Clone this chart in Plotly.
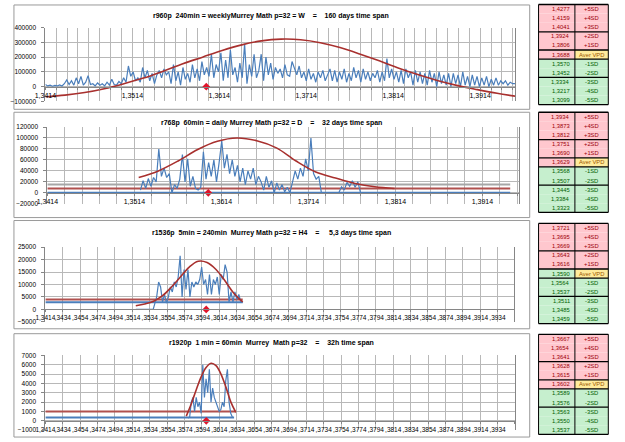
import numpy as np
import plotly.graph_objects as go

W, H = 625, 442
FONT = "Liberation Sans, Arial, sans-serif"

# ---------------- data ----------------
titles = [
    "r960p  240min = weeklyMurrey Math p=32 = W    =    160 days time span",
    "r768p  60min = daily Murrey Math p=32 = D    =    32 days time span",
    "r1536p  5min = 240min  Murrey Math p=32 = H4    =     5,3 days time span",
    "r1920p  1 min = 60min  Murrey  Math p=32    =    32h time span",
]

# panel 1 (values in thousands)
p1_blue_k = [
    15, 5, 10, 3, 8, 5, 12, 5, 20, 45,
    15, 40, 10, 60, 20, 70, 10, 30, 75, 15,
    20, 5, 25, 10, 20, 5, 30, 10, 50, 15,
    10, 35, 20, 60, 30, 140, 70, 100, 40, 60,
    30, 130, 60, 110, 40, 90, 20, 80, 110, 60,
    120, 80, 100, 20, 150, 40, 100, 10, 130, 50,
    90, 30, 150, 60, 120, 40, 170, 80, 130, 70,
    220, 60, 150, 100, 230, 40, 180, 60, 250, 80,
    130, 30, 160, 60, 290, 20, 150, 70, 220, 60,
    110, 220, 40, 200, 80, 160, 50, 130, 90, 120,
    60, 150, 80, 70, 170, 120, 80, 140, 60, 100,
    40, 120, 50, 90, 30, 100, 60, 110, 40, 80,
    120, 40, 110, 30, 100, 50, 120, 30, 90, 40,
    130, 60, 110, 30, 120, 50, 100, 40, 90, 60,
    110, 30, 100, 40, 190, 60, 120, 50, 100, 30,
    110, 20, 120, 60, 100, 10, 110, 30, 100, 20,
    90, 10, 110, 30, 90, 0, 100, 20, 80, 10,
    90, 0, 90, 20, 80, 0, 100, 10, 70, 0,
    80, 10, 70, 0, 60, 10, 70, 0, 50, 10,
    60, 10, 40, 20, 40, 10, 30, 20, 20]
p1_blue_span = (1.3414, 1.3954)
p1_red_k = [-68, -57, -40, -14, 20, 58, 105, 155, 200, 245, 283, 310, 322,
            318, 298, 265, 222, 175, 125, 80, 40, 7, -20, -45, -66]
p1_red_span = (1.3414, 1.3956)

# panel 2
p2_blue_k = [
    5, 22, 8, 26, 12, 28, 20, 80, 30, 45,
    28, 35, 0, 15, 8, 25, 70, 20, 62, 12,
    30, 8, 5, 10, 75, 25, 55, 30, 60, 20,
    55, 95, 45, 70, 35, 60, 30, 50, 20, 45,
    15, 40, 25, 45, 15, 30, 20, 5, 30, 10,
    22, 0, 18, 5, 15, 2, 10, 0, 20, 40,
    25, 45, 30, 62, 40, 100, 35, 25, 30, 0]
p2_blue_span = (1.3521, 1.3729)
p2_blue2_k = [0, 11, 5, 19, 12, 22, 10, 20, 0]
p2_blue2_span = (1.3749, 1.3774)
p2_red_k = [28, 40, 58, 79, 94, 100, 95, 82, 58, 38, 27, 17, 11, 8]
p2_red_span = (1.3519, 1.3813)
p2_levels = {"gray": 15000, "red": 8000, "blue": 0}
p2_level_span = (1.3414, 1.3946)

# panel 3
p3_blue_lead = [0, 0]
p3_blue_lead_x = [1.3518, 1.3538]
p3_blue = [5000, 11000, 9000, 3000, 6000, 2500, 5000, 9000, 7000, 11000,
           9000, 13000, 21500, 5000, 16000, 8000, 16000, 5000, 11000, 9000,
           11000, 10000, 12000, 17000, 10000, 12000, 6000, 14000, 6000, 12000,
           10000, 13000, 6000, 14000, 12000, 18000, 15000, 3000, 7000, 3000,
           7000, 4000, 6000, 3000, 2900]
p3_blue_span = (1.3542, 1.3641)
p3_red = [1500, 2200, 3300, 5500, 9000, 13000, 17000, 19300, 18800, 16000, 11500, 6500, 3000]
p3_red_span = (1.3518, 1.3641)
p3_levels = {"red": 4000, "blue": 2900}
p3_level_span = (1.3414, 1.3641)

# panel 4
p4_blue = [300, 400, 2000, 2500, 1000, 2500, 1500, 2000, 800, 6000,
           2500, 4500, 3000, 5500, 2000, 3500, 2500, 2000, 1500, 1000,
           1200, 2000, 1500, 4300, 5500, 2000, 800, 400]
p4_blue_span = (1.3578, 1.3629)
p4_red = [500, 1800, 3300, 4700, 5700, 6150, 5900, 5000, 3600, 2000, 900]
p4_red_span = (1.3576, 1.3633)
p4_levels = {"red": 1000, "blue": 350}
p4_level_span = {"red": (1.3414, 1.3633), "blue": (1.3414, 1.3631)}

marker_x = 1.3599

# x tick labels
labels_wide = ["1,3414", "1,3514", "1,3614", "1,3714", "1,3814", "1,3914"]
labels_dense = ["1,3414"] + [",%d" % v for v in range(3434, 3935, 20)]

# tables
sd_labels = ["+5SD", "+4SD", "+3SD", "+2SD", "+1SD", "Aver VPD",
             "-1SD", "-2SD", "-3SD", "-4SD", "-5SD"]
t_vals = [
    ["1,4277", "1,4159", "1,4041", "1,3924", "1,3806", "1,3688", "1,3570", "1,3452", "1,3334", "1,3217", "1,3099"],
    ["1,3934", "1,3873", "1,3812", "1,3751", "1,3690", "1,3629", "1,3568", "1,3507", "1,3445", "1,3384", "1,3323"],
    ["1,3721", "1,3695", "1,3669", "1,3643", "1,3616", "1,3590", "1,3564", "1,3537", "1,3511", "1,3485", "1,3459"],
    ["1,3667", "1,3654", "1,3641", "1,3628", "1,3615", "1,3602", "1,3589", "1,3576", "1,3563", "1,3550", "1,3537"],
]
aver_value_positive = [True, True, False, True]

# ---------------- styling ----------------
BLUE = "#4A7EBB"
RED = "#A8302E"
RED_FLAT = "#B0504E"
GRAY_FLAT = "#A6A6A6"
GRID = "#B8B8B8"
AXIS = "#868686"
PINK = "#FFC7CE"
GREEN = "#C6EFCE"
YELLOW = "#FFEB9C"
TICK = 6.5

panels = [
    dict(xr=(35, 513), yr=(24, 99), yrange=(-100000, 400000), dtick=100000,
         xrange=(1.3414, 1.3954), grid=0.00125, lab=labels_wide, every=8, title_y=12,
         box=(3, 1, 528, 107), xtick=7),
    dict(xr=(37, 517), yr=(125, 203), yrange=(-20000, 120000), dtick=20000,
         xrange=(1.3414, 1.3956), grid=0.002, lab=labels_wide, every=5, title_y=121,
         box=(3, 110, 528, 217), xtick=7),
    dict(xr=(35, 512), yr=(247, 323), yrange=(-5000, 25000), dtick=5000,
         xrange=(1.3414, 1.3953), grid=0.002, lab=labels_dense, every=1, title_y=233,
         box=(3, 220, 528, 330), xtick=6.5),
    dict(xr=(35, 513), yr=(357, 433), yrange=(-1000, 7000), dtick=1000,
         xrange=(1.3414, 1.3954), grid=0.002, lab=labels_dense, every=1, title_y=344,
         box=(3, 335, 528, 440), xtick=6.5),
]


def fx(px):
    return px / W


def fy(py):
    return 1 - py / H


fig = go.Figure()


def add_line(i, x, y, color, width, shape="linear"):
    n = "" if i == 0 else str(i + 1)
    fig.add_trace(go.Scatter(x=x, y=y, mode="lines", xaxis="x" + n, yaxis="y" + n,
                             line=dict(color=color, width=width, shape=shape),
                             hoverinfo="skip", showlegend=False))


def span(s, n):
    return np.linspace(s[0], s[1], n)


# panel 1
add_line(0, span(p1_blue_span, len(p1_blue_k)), [v * 1000 for v in p1_blue_k], BLUE, 1.2)
add_line(0, span(p1_red_span, len(p1_red_k)), [v * 1000 for v in p1_red_k], RED, 1.6, "spline")
# panel 2
for key, col in (("gray", GRAY_FLAT), ("red", RED_FLAT), ("blue", BLUE)):
    add_line(1, list(p2_level_span), [p2_levels[key]] * 2, col, 2)
add_line(1, span(p2_blue_span, len(p2_blue_k)), [v * 1000 for v in p2_blue_k], BLUE, 1.2)
add_line(1, span(p2_blue2_span, len(p2_blue2_k)), [v * 1000 for v in p2_blue2_k], BLUE, 1.2)
add_line(1, span(p2_red_span, len(p2_red_k)), [v * 1000 for v in p2_red_k], RED, 1.6, "spline")
# panel 3
add_line(2, list(p3_level_span), [p3_levels["red"]] * 2, RED_FLAT, 2)
add_line(2, list(p3_level_span), [p3_levels["blue"]] * 2, BLUE, 2)
add_line(2, p3_blue_lead_x + list(span(p3_blue_span, len(p3_blue))), p3_blue_lead + p3_blue, BLUE, 1.2)
add_line(2, span(p3_red_span, len(p3_red)), p3_red, RED, 1.6, "spline")
# panel 4
add_line(3, list(p4_level_span["red"]), [p4_levels["red"]] * 2, RED_FLAT, 2)
add_line(3, list(p4_level_span["blue"]), [p4_levels["blue"]] * 2, BLUE, 2)
add_line(3, span(p4_blue_span, len(p4_blue)), p4_blue, BLUE, 1.2)
add_line(3, span(p4_red_span, len(p4_red)), p4_red, RED, 1.6, "spline")

for i in range(4):
    n = "" if i == 0 else str(i + 1)
    fig.add_trace(go.Scatter(x=[marker_x], y=[0], mode="markers", xaxis="x" + n, yaxis="y" + n,
                             marker=dict(symbol="diamond", color="#E0142A", size=6),
                             hoverinfo="skip", showlegend=False))

shapes = []
annotations = []
layout = dict(width=W, height=H, margin=dict(l=0, r=0, t=0, b=0),
              paper_bgcolor="white", plot_bgcolor="white", showlegend=False)

for i, p in enumerate(panels):
    n = "" if i == 0 else str(i + 1)
    y0, y1 = fy(p["yr"][1]), fy(p["yr"][0])
    ymin, ymax = p["yrange"]
    pos = y0 + (0 - ymin) / (ymax - ymin) * (y1 - y0)
    tv, tt = [], []
    k = 0
    while True:
        v = round(1.3414 + k * p["grid"], 6)
        if v > p["xrange"][1] + 1e-9:
            break
        tv.append(v)
        j = k // p["every"]
        tt.append(p["lab"][j] if (k % p["every"] == 0 and j < len(p["lab"])) else "")
        k += 1
    layout["xaxis" + n] = dict(domain=[fx(p["xr"][0]), fx(p["xr"][1])], range=list(p["xrange"]),
                               anchor="free", position=pos, tickmode="array", tickvals=tv, ticktext=tt,
                               showgrid=True, gridcolor=GRID, gridwidth=1, zeroline=False,
                               showline=True, linecolor=AXIS, linewidth=1,
                               ticks="outside", ticklen=2, tickcolor=AXIS,
                               tickfont=dict(family=FONT, size=p["xtick"], color="#000"), tickangle=0)
    layout["yaxis" + n] = dict(domain=[y0, y1], range=list(p["yrange"]), anchor="x" + n,
                               tickmode="linear", tick0=0, dtick=p["dtick"], tickformat="d",
                               showgrid=True, gridcolor=GRID, gridwidth=1, zeroline=False,
                               showline=True, linecolor=AXIS, linewidth=1, mirror=True,
                               ticks="outside", ticklen=3, tickcolor=AXIS, ticklabelstandoff=4,
                               tickfont=dict(family=FONT, size=TICK, color="#000"))
    bx0, by0, bx1, by1 = p["box"]
    shapes.append(dict(type="rect", xref="paper", yref="paper", x0=fx(bx0), x1=fx(bx1),
                       y0=fy(by1), y1=fy(by0), line=dict(color="#9A9A9A", width=1), layer="below"))
    annotations.append(dict(xref="paper", yref="paper", x=fx(265), y=fy(p["title_y"]),
                            text="<b>" + titles[i].replace(" ", "\u00a0") + "</b>", showarrow=False,
                            font=dict(family=FONT, size=7, color="#000"), xanchor="center",
                            yanchor="middle"))

# tables
table_tops = [0.5, 110, 223, 335.6]
row_h = 9.25
c0, c1, c2 = 537, 574, 608
for t in range(4):
    top = table_tops[t]
    for r in range(11):
        ya, yb = top + r * row_h, top + (r + 1) * row_h
        pos_row = r < 5 or (r == 5 and aver_value_positive[t])
        vfill = PINK if pos_row else GREEN
        vcol = "#9C0006" if pos_row else "#006100"
        lfill = YELLOW if r == 5 else (PINK if r < 5 else GREEN)
        lcol = "#9C5700" if r == 5 else ("#9C0006" if r < 5 else "#006100")
        shapes.append(dict(type="rect", xref="paper", yref="paper", x0=fx(c0), x1=fx(c1),
                           y0=fy(yb), y1=fy(ya), fillcolor=vfill, line=dict(width=0)))
        shapes.append(dict(type="rect", xref="paper", yref="paper", x0=fx(c1), x1=fx(c2),
                           y0=fy(yb), y1=fy(ya), fillcolor=lfill, line=dict(width=0)))
        annotations.append(dict(xref="paper", yref="paper", x=fx(c1 - 3), y=fy((ya + yb) / 2),
                                text=t_vals[t][r], showarrow=False, xanchor="right", yanchor="middle",
                                font=dict(family=FONT, size=5.8, color=vcol)))
        annotations.append(dict(xref="paper", yref="paper", x=fx((c1 + c2) / 2), y=fy((ya + yb) / 2),
                                text=sd_labels[r], showarrow=False, xanchor="center", yanchor="middle",
                                font=dict(family=FONT, size=5.8, color=lcol)))
    for r in (0, 3, 5, 6, 8, 11):
        yy = top + r * row_h
        shapes.append(dict(type="line", xref="paper", yref="paper", x0=fx(c0), x1=fx(c2),
                           y0=fy(yy), y1=fy(yy), line=dict(color="#000", width=1.3)))
    for xx in (c0, c1, c2):
        shapes.append(dict(type="line", xref="paper", yref="paper", x0=fx(xx), x1=fx(xx),
                           y0=fy(top + 11 * row_h), y1=fy(top), line=dict(color="#000", width=1)))

layout["shapes"] = shapes
layout["annotations"] = annotations
fig.update_layout(**layout)
fig.write_html("out.html")
